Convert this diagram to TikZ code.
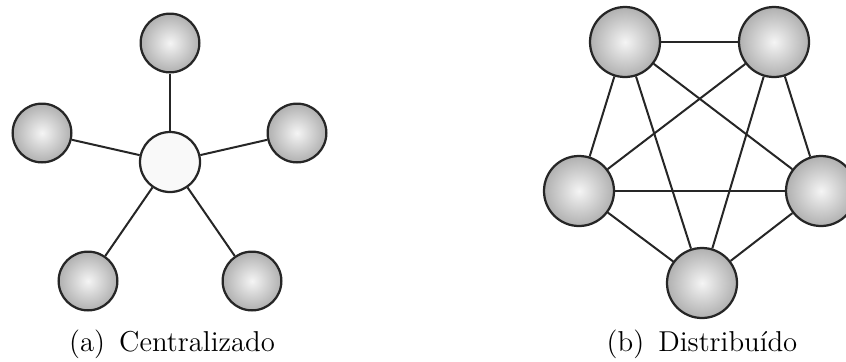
\documentclass[tikz,border=0pt]{standalone}
\usetikzlibrary{positioning}

\tikzset{
	host/.style = {circle, draw = black!85, line width = 0.9pt, inner sep = 0pt,
		minimum size = 23.5pt, shading = radial, inner color = gray!8, outer color = gray!62},
	bighost/.style = {host, minimum size = 28pt},
	hub/.style = {circle, draw = black!85, line width = 0.9pt, inner sep = 0pt,
		minimum size = 24pt, fill = gray!5},
	link/.style = {line width = 0.8pt, black!85},
	caption/.style = {font = \fontsize{11.5pt}{14pt}\selectfont}
}

\begin{document}
\begin{tikzpicture} [x = 0.4pt, y = -0.4pt]
	\useasboundingbox (0,0) rectangle (846,361);
	% centralizado
	\node [hub]  (c)  at (170,162) {};
	\node [host] (t)  at (170,43)  {};
	\node [host] (l)  at (42,133)  {};
	\node [host] (r)  at (297,133) {};
	\node [host] (bl) at (88,281)  {};
	\node [host] (br) at (252,281) {};
	\foreach \n in {t,l,r,bl,br}
		\draw [link] (c) -- (\n);
	\node [caption] (capa) at (172,344) {(a)\, Centralizado};
	% distribuido
	\node [bighost] (tl) at (625,42)  {};
	\node [bighost] (tr) at (774,42)  {};
	\node [bighost] (ml) at (579,191) {};
	\node [bighost] (mr) at (821,191) {};
	\node [bighost] (bt) at (702,283) {};
	\foreach \a/\b in {tl/tr,tl/ml,tl/mr,tl/bt,tr/ml,tr/mr,tr/bt,ml/mr,ml/bt,mr/bt}
		\draw [link] (\a) -- (\b);
	\node [caption] (capb) at (702,344) {(b)\, Distribuído};
\end{tikzpicture}
\end{document}
